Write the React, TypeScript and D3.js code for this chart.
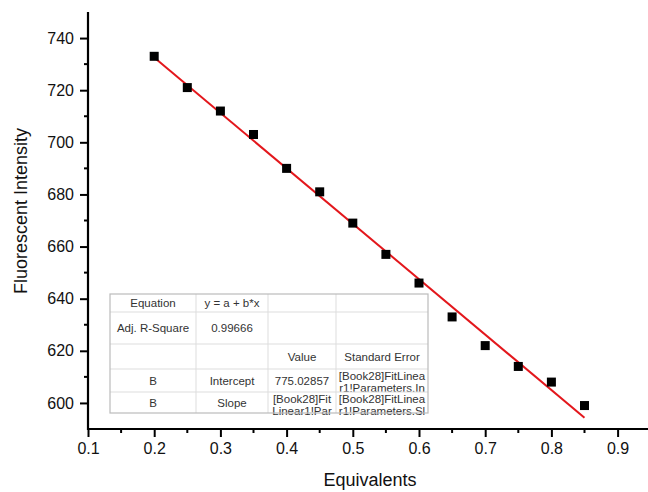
import React, { useEffect, useRef } from "react"
import * as d3 from "d3"

// measured points
const equivalents = [0.2, 0.25, 0.3, 0.35, 0.4, 0.45, 0.5, 0.55, 0.6, 0.65, 0.7, 0.75, 0.8, 0.85]
const intensity = [733, 721, 712, 703, 690, 681, 669, 657, 646, 633, 622, 614, 608, 599]

const xTicks = [0.1, 0.2, 0.3, 0.4, 0.5, 0.6, 0.7, 0.8, 0.9]
const yTicks = [600, 620, 640, 660, 680, 700, 720, 740]

// fit report table (Origin style)
const tableRows = [
  ["Equation", "y = a + b*x", "", ""],
  ["Adj. R-Square", "0.99666", "", ""],
  ["", "", "Value", "Standard Error"],
  ["B", "Intercept", "775.02857", "[Book28]FitLinea\nr1!Parameters.In"],
  ["B", "Slope", "[Book28]Fit\nLinear1!Par", "[Book28]FitLinea\nr1!Parameters.Sl"],
]

const FONT = "Arial, 'Liberation Sans', sans-serif"

function App() {
  const svgRef = useRef<SVGSVGElement>(null)

  useEffect(() => {
    const WIDTH = 648
    const HEIGHT = 492
    const svg = d3.select(svgRef.current)
      .attr("width", WIDTH)
      .attr("height", HEIGHT)
    svg.selectAll("*").remove()

    const M = { left: 88, top: 12, right: WIDTH, bottom: 429 }

    const x = d3.scaleLinear().domain([0.1, 0.1 + (M.right - M.left) / 662]).range([M.left, M.right])
    const y = d3.scaleLinear().domain([590, 750]).range([M.bottom, M.top])

    // least squares fit
    const mx = d3.mean(equivalents)!
    const my = d3.mean(intensity)!
    let sxy = 0, sxx = 0
    equivalents.forEach((v, i) => {
      sxy += (v - mx) * (intensity[i] - my)
      sxx += (v - mx) * (v - mx)
    })
    const b = sxy / sxx
    const a = my - b * mx
    const x0 = d3.min(equivalents)!
    const x1 = d3.max(equivalents)!

    // axes
    const xMinor = d3.range(0.15, 0.95, 0.1)
    const yMinor = d3.range(610, 750, 20)

    const xAxis = svg.append("g").attr("transform", `translate(0,${M.bottom})`)
    xAxis.call(d3.axisBottom(x).tickValues(xTicks).tickFormat(d3.format(".1f")).tickSize(8).tickPadding(6))
    xAxis.select(".domain").attr("stroke-width", 2.2).attr("d", `M${M.left - 1},0H${M.right}`)
    xAxis.selectAll(".tick line").attr("stroke-width", 2)
    xAxis.selectAll("text").attr("font-family", FONT).attr("font-size", 16).attr("fill", "#111")
    xAxis.selectAll(".minor").data(xMinor).enter().append("line")
      .attr("class", "minor")
      .attr("x1", d => x(d)).attr("x2", d => x(d))
      .attr("y1", 0).attr("y2", 4)
      .attr("stroke", "#000").attr("stroke-width", 2)

    const yAxis = svg.append("g").attr("transform", `translate(${M.left},0)`)
    yAxis.call(d3.axisLeft(y).tickValues(yTicks).tickSize(8).tickPadding(6))
    yAxis.select(".domain").attr("stroke-width", 2.2).attr("d", `M0,${M.top}V${M.bottom + 1}`)
    yAxis.selectAll(".tick line").attr("stroke-width", 2)
    yAxis.selectAll("text").attr("font-family", FONT).attr("font-size", 16).attr("fill", "#111")
    yAxis.selectAll(".minor").data(yMinor).enter().append("line")
      .attr("class", "minor")
      .attr("x1", -4).attr("x2", 0)
      .attr("y1", d => y(d)).attr("y2", d => y(d))
      .attr("stroke", "#000").attr("stroke-width", 2)

    // axis titles
    svg.append("text")
      .attr("x", 370).attr("y", 486)
      .attr("text-anchor", "middle")
      .attr("font-family", FONT).attr("font-size", 18).attr("fill", "#111")
      .text("Equivalents")
    svg.append("text")
      .attr("transform", `translate(27,211) rotate(-90)`)
      .attr("text-anchor", "middle")
      .attr("font-family", FONT).attr("font-size", 18).attr("fill", "#111")
      .text("Fluorescent Intensity")

    // fit line
    svg.append("line")
      .attr("x1", x(x0)).attr("y1", y(a + b * x0))
      .attr("x2", x(x1)).attr("y2", y(a + b * x1))
      .attr("stroke", "#e3171c").attr("stroke-width", 2)

    // points
    const S = 9
    svg.selectAll(".pt")
      .data(equivalents)
      .enter().append("rect")
        .attr("class", "pt")
        .attr("x", d => x(d) - S / 2)
        .attr("y", (d, i) => y(intensity[i]) - S / 2)
        .attr("width", S).attr("height", S)
        .attr("fill", "#000")

    // table
    const colX = [110, 196, 268, 336, 428]
    const rowY = [294, 312, 344, 369, 392, 413]
    const tbl = svg.append("g")
    tbl.append("rect")
      .attr("x", colX[0]).attr("y", rowY[0])
      .attr("width", colX[4] - colX[0]).attr("height", rowY[5] - rowY[0])
      .attr("fill", "#fff")
    const defs = svg.append("defs")
    tableRows.forEach((row, r) => {
      row.forEach((cell, c) => {
        const cx = colX[c], cy = rowY[r]
        const w = colX[c + 1] - cx, h = rowY[r + 1] - cy
        const id = `cell_${r}_${c}`
        defs.append("clipPath").attr("id", id)
          .append("rect").attr("x", cx).attr("y", cy)
          .attr("width", w).attr("height", r === tableRows.length - 1 ? h + 6 : h)
        if (!cell) return
        const lines = cell.split("\n")
        const t = tbl.append("text")
          .attr("clip-path", `url(#${id})`)
          .attr("text-anchor", "middle")
          .attr("font-family", FONT).attr("font-size", 11.5).attr("fill", "#333")
        if (lines.length === 1) {
          t.attr("x", cx + w / 2).attr("y", cy + h / 2 + 4).text(cell)
        } else {
          lines.forEach((ln, k) => {
            t.append("tspan").attr("x", cx + w / 2).attr("y", cy + 11 + k * 12).text(ln)
          })
        }
      })
    })
    // grid lines
    tbl.selectAll(".hl").data(rowY.slice(1, -1)).enter().append("line")
      .attr("x1", colX[0]).attr("x2", colX[4])
      .attr("y1", d => d).attr("y2", d => d)
      .attr("stroke", "#ddd").attr("stroke-width", 1)
    tbl.selectAll(".vl").data(colX.slice(1, -1)).enter().append("line")
      .attr("x1", d => d).attr("x2", d => d)
      .attr("y1", rowY[0]).attr("y2", rowY[5])
      .attr("stroke", "#ddd").attr("stroke-width", 1)
    tbl.append("rect")
      .attr("x", colX[0]).attr("y", rowY[0])
      .attr("width", colX[4] - colX[0]).attr("height", rowY[5] - rowY[0])
      .attr("fill", "none").attr("stroke", "#bbb").attr("stroke-width", 1.2)
  }, [])

  return (
    <svg ref={svgRef} style={{ position: "absolute", left: 0, top: 0, background: "#fff" }}></svg>
  )
}

export default App
